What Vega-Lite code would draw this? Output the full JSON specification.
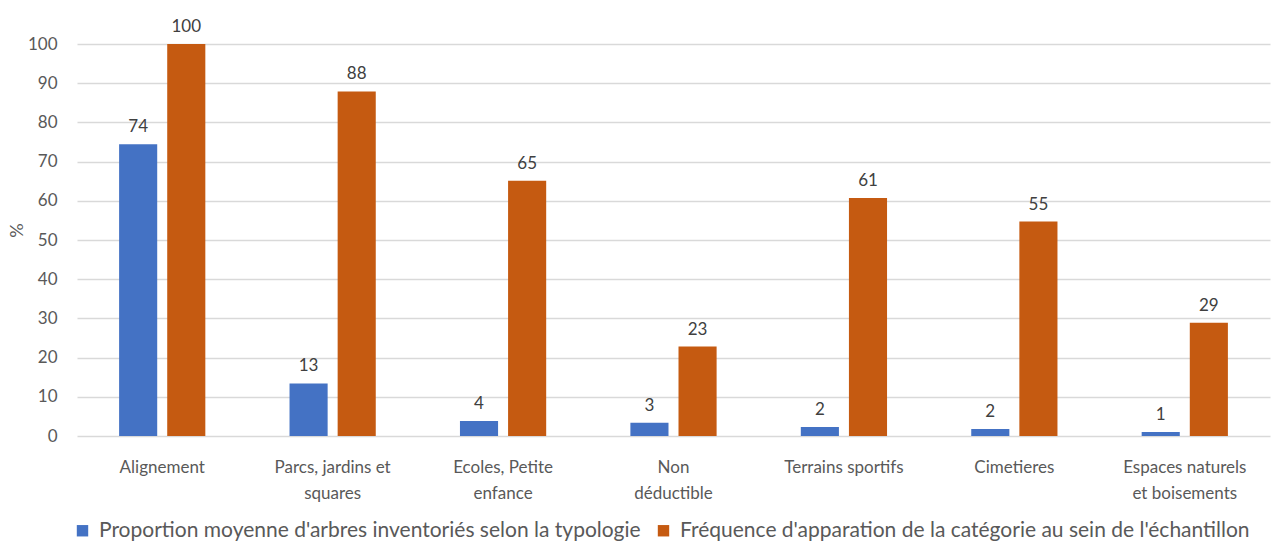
{
  "$schema": "https://vega.github.io/schema/vega-lite/v6.json",
  "width": 1193,
  "height": 392,
  "autosize": {"type": "none"},
  "padding": {"left": 77, "top": 44, "right": 6, "bottom": 109},
  "background": "white",
  "config": {
    "view": {"stroke": null},
    "font": "Lato",
    "axis": {"labelFont": "Lato", "titleFont": "Lato", "labelColor": "#595959", "titleColor": "#595959"},
    "legend": {"labelFont": "Lato", "labelColor": "#595959"}
  },
  "data": {
    "values": [
      {"cat": "Alignement", "serie": "Proportion moyenne d'arbres inventoriés selon la typologie", "v": 74.4},
      {"cat": "Alignement", "serie": "Fréquence d'apparation de la catégorie au sein de l'échantillon", "v": 100},
      {"cat": "Parcs, jardins et squares", "serie": "Proportion moyenne d'arbres inventoriés selon la typologie", "v": 13.4},
      {"cat": "Parcs, jardins et squares", "serie": "Fréquence d'apparation de la catégorie au sein de l'échantillon", "v": 87.9},
      {"cat": "Ecoles, Petite enfance", "serie": "Proportion moyenne d'arbres inventoriés selon la typologie", "v": 3.8},
      {"cat": "Ecoles, Petite enfance", "serie": "Fréquence d'apparation de la catégorie au sein de l'échantillon", "v": 65.1},
      {"cat": "Non déductible", "serie": "Proportion moyenne d'arbres inventoriés selon la typologie", "v": 3.4},
      {"cat": "Non déductible", "serie": "Fréquence d'apparation de la catégorie au sein de l'échantillon", "v": 22.8},
      {"cat": "Terrains sportifs", "serie": "Proportion moyenne d'arbres inventoriés selon la typologie", "v": 2.3},
      {"cat": "Terrains sportifs", "serie": "Fréquence d'apparation de la catégorie au sein de l'échantillon", "v": 60.7},
      {"cat": "Cimetieres", "serie": "Proportion moyenne d'arbres inventoriés selon la typologie", "v": 1.8},
      {"cat": "Cimetieres", "serie": "Fréquence d'apparation de la catégorie au sein de l'échantillon", "v": 54.7},
      {"cat": "Espaces naturels et boisements", "serie": "Proportion moyenne d'arbres inventoriés selon la typologie", "v": 1.0},
      {"cat": "Espaces naturels et boisements", "serie": "Fréquence d'apparation de la catégorie au sein de l'échantillon", "v": 28.9}
    ]
  },
  "encoding": {
    "x": {
      "field": "cat", "type": "nominal", "sort": null, "title": null,
      "scale": {"paddingInner": 0, "paddingOuter": 0},
      "axis": {
        "labelAngle": 0, "domain": false, "ticks": false, "labelFontSize": 17, "labelPadding": 31,
        "labelLineHeight": 26, "labelBaseline": "middle",
        "labelExpr": "datum.value == 'Parcs, jardins et squares' ? ['Parcs, jardins et', 'squares'] : datum.value == 'Ecoles, Petite enfance' ? ['Ecoles, Petite', 'enfance'] : datum.value == 'Non déductible' ? ['Non', 'déductible'] : datum.value == 'Espaces naturels et boisements' ? ['Espaces naturels', 'et boisements'] : datum.value"
      }
    },
    "xOffset": {
      "field": "serie", "type": "nominal", "sort": null,
      "scale": {"paddingInner": 0.208, "paddingOuter": 0.875}
    },
    "y": {
      "field": "v", "type": "quantitative", "title": "%",
      "scale": {"domain": [0, 100], "nice": false},
      "axis": {
        "values": [0, 10, 20, 30, 40, 50, 60, 70, 80, 90, 100],
        "domain": false, "ticks": false, "labelFontSize": 17, "labelPadding": 20,
        "gridColor": "#d9d9d9", "gridWidth": 1.3,
        "titleFontSize": 18, "titleFontWeight": "normal", "titleX": -60, "titleY": 186, "titleAlign": "center", "titleBaseline": "middle"
      }
    }
  },
  "layer": [
    {
      "mark": {"type": "bar"},
      "encoding": {
        "color": {
          "field": "serie", "type": "nominal", "sort": null,
          "scale": {"range": ["#4472C4", "#C55A11"]},
          "legend": {
            "title": null, "orient": "none", "direction": "horizontal", "legendX": -5, "legendY": 476,
            "symbolType": "square", "symbolSize": 130, "labelFontSize": 21, "labelOffset": 6,
            "columnPadding": 12, "labelLimit": 700
          }
        }
      }
    },
    {
      "mark": {"type": "text", "fontSize": 17, "color": "#404040", "baseline": "bottom", "dy": -8},
      "encoding": {
        "text": {"field": "v", "type": "quantitative", "format": ".0f"}
      }
    }
  ]
}
